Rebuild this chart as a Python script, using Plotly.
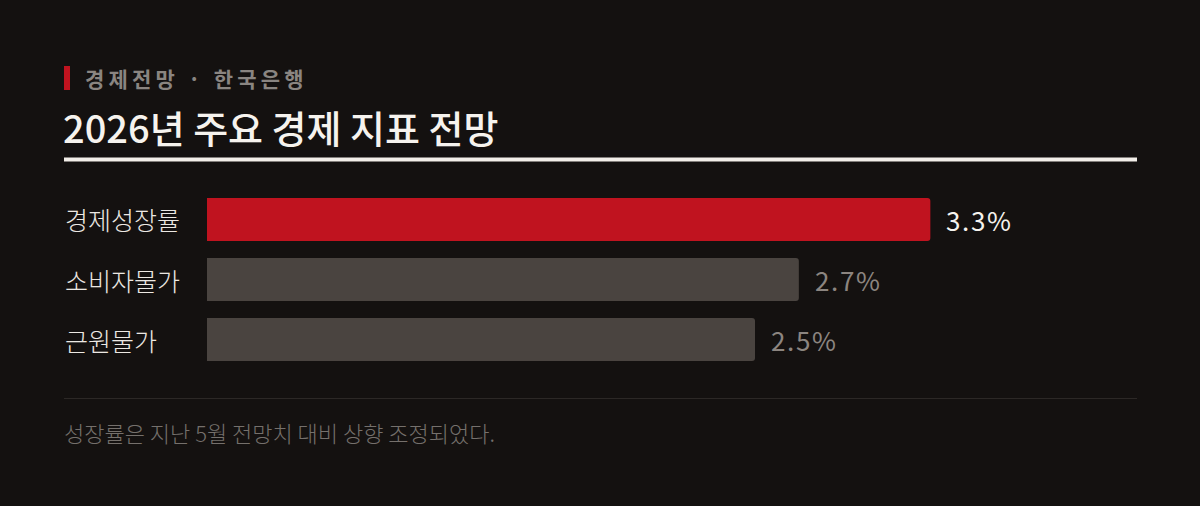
import plotly.graph_objects as go

# data
indicators = ["경제성장률", "소비자물가", "근원물가"]
values = [3.3, 2.7, 2.5]
value_labels = ["3.3%", "2.7%", "2.5%"]
highlight = [True, False, False]

kicker = "경제전망 · 한국은행"
title = "2026년 주요 경제 지표 전망"
note = "성장률은 지난 5월 전망치 대비 상향 조정되었다."

W, H = 1200, 506
BG = "#141110"
RED = "#c0131f"
GREY_BAR = "#4a4440"
FONT = "Noto Sans CJK KR"


def px_x(v):
    return v / W


def px_y(v):
    return 1 - v / H


def spaced(s, sep="\u200a"):
    return sep.join(s)


bar_colors = [RED if h else GREY_BAR for h in highlight]

fig = go.Figure(go.Bar(
    x=values,
    y=indicators,
    orientation="h",
    marker=dict(color=bar_colors, cornerradius=3, line=dict(width=0)),
    width=0.717,
    hoverinfo="skip",
))

annotations = []
for cat in indicators:
    annotations.append(dict(
        x=px_x(63), xref="paper", xanchor="left",
        y=cat, yref="y", yanchor="middle",
        text=cat, showarrow=False,
        font=dict(family=FONT, size=25, color="#ece8e3", weight=300),
    ))
for cat, v, lab, h in zip(indicators, values, value_labels, highlight):
    annotations.append(dict(
        x=v, xref="x", xanchor="left", xshift=14,
        y=cat, yref="y", yanchor="middle",
        text=spaced(lab), showarrow=False,
        font=dict(family=FONT, size=26, color="#f6f3ee" if h else "#8c8580", weight=400),
    ))

# header / footer text
annotations.append(dict(
    x=px_x(83), xref="paper", xanchor="left",
    y=px_y(78), yref="paper", yanchor="middle",
    text=spaced(kicker, "\u2009"), showarrow=False,
    font=dict(family=FONT, size=21, color="#8a8581", weight="bold"),
))
annotations.append(dict(
    x=px_x(61), xref="paper", xanchor="left",
    y=px_y(126), yref="paper", yanchor="middle",
    text=title, showarrow=False,
    font=dict(family=FONT, size=38, color="#f6f3ee", weight=500),
))
annotations.append(dict(
    x=px_x(62), xref="paper", xanchor="left",
    y=px_y(432), yref="paper", yanchor="middle",
    text=note, showarrow=False,
    font=dict(family=FONT, size=22, color="#75706c", weight=300),
))

shapes = [
    dict(type="rect", xref="paper", yref="paper",
         x0=px_x(64), x1=px_x(70), y0=px_y(90), y1=px_y(66),
         fillcolor=RED, line=dict(width=0)),
    dict(type="rect", xref="paper", yref="paper",
         x0=px_x(64), x1=px_x(1137), y0=px_y(161.5), y1=px_y(157.5),
         fillcolor="#f2eee8", line=dict(width=0)),
    dict(type="line", xref="paper", yref="paper",
         x0=px_x(64), x1=px_x(1137), y0=px_y(398.5), y1=px_y(398.5),
         line=dict(color="#2c2826", width=1)),
]

scale = 219.2  # px per percentage point
fig.update_layout(
    width=W, height=H,
    margin=dict(l=0, r=0, t=0, b=0),
    paper_bgcolor=BG, plot_bgcolor=BG,
    showlegend=False,
    xaxis=dict(domain=[px_x(207), px_x(1137)], range=[0, (1137 - 207) / scale],
               visible=False, fixedrange=True),
    yaxis=dict(domain=[px_y(369.5), px_y(189.5)], range=[2.5, -0.5],
               visible=False, fixedrange=True, type="category"),
    annotations=annotations,
    shapes=shapes,
    font=dict(family=FONT),
)

fig.write_html("out.html", config={"displayModeBar": False},
               post_script="document.body.style.margin='0';")
